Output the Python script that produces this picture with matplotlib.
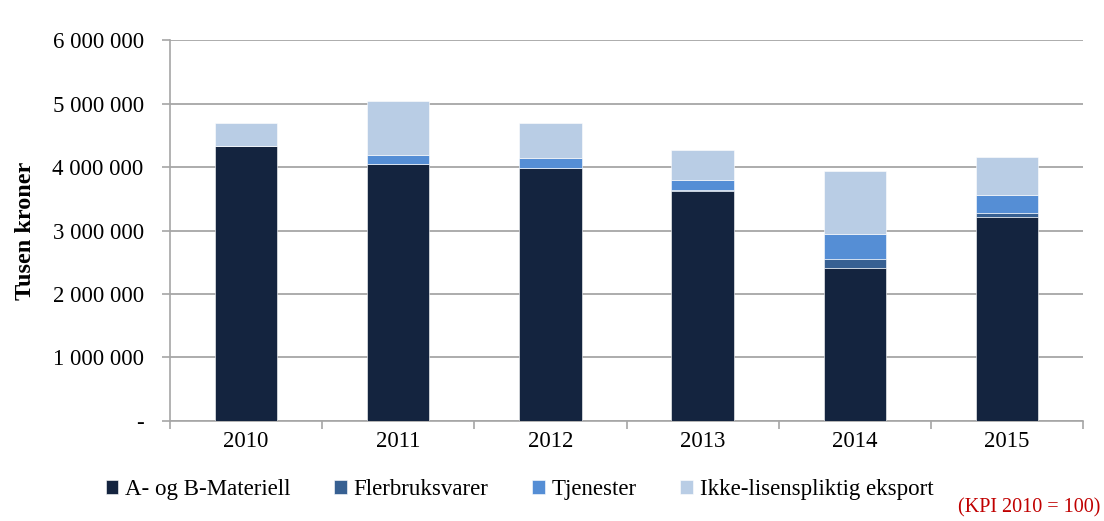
import numpy as np
import matplotlib.pyplot as plt
from matplotlib.ticker import FuncFormatter

years = ['2010', '2011', '2012', '2013', '2014', '2015']
materiell = [4335000, 4050000, 3980000, 3630000, 2410000, 3210000]
flerbruk = [0, 0, 10000, 10000, 140000, 60000]
tjenester = [0, 140000, 150000, 160000, 390000, 290000]
ikke_lisens = [365000, 850000, 550000, 470000, 1000000, 600000]

series = [
    ('A- og B-Materiell', materiell, '#14243f'),
    ('Flerbruksvarer', flerbruk, '#376092'),
    ('Tjenester', tjenester, '#558ed5'),
    ('Ikke-lisenspliktig eksport', ikke_lisens, '#b9cde5'),
]

plt.rcParams['font.family'] = ['Liberation Serif', 'DejaVu Serif']

fig = plt.figure(figsize=(11.04, 5.21), dpi=100)
ax = fig.add_axes([0.154, 0.192, 0.827, 0.731])

x = np.arange(len(years))
bottom = np.zeros(len(years))
handles = []
for name, vals, col in series:
    vals = np.array(vals, dtype=float)
    b = ax.bar(x, vals, width=0.41, bottom=bottom, color=col, edgecolor='white',
               linewidth=0.4, zorder=3, label=name)
    handles.append(b)
    bottom += vals

ax.set_ylim(0, 6000000)
ax.set_xlim(-0.5, len(years) - 0.5)
ax.set_yticks(np.arange(0, 6000001, 1000000))


def fmt(v, pos):
    if v == 0:
        return '-'
    return f'{int(v):,}'.replace(',', ' ')


ax.yaxis.set_major_formatter(FuncFormatter(fmt))
ax.yaxis.grid(True, color='#a6a6a6', linewidth=1.3, zorder=0)

ax.set_xticks(x)
ax.set_xticklabels(years)
ax.set_xticks(np.arange(-0.5, len(years), 1), minor=True)
ax.tick_params(axis='x', which='major', length=0, pad=7, labelsize=16.5)
ax.tick_params(axis='x', which='minor', length=6, color='#a6a6a6', width=1.2)
ax.tick_params(axis='y', length=6, color='#a6a6a6', width=1.2, pad=13, labelsize=16.5)

for s in ['top', 'right']:
    ax.spines[s].set_visible(False)
for s in ['left', 'bottom']:
    ax.spines[s].set_color('#a6a6a6')
    ax.spines[s].set_linewidth(1.2)

ax.set_ylabel('Tusen kroner', fontsize=17.5, fontweight='bold', labelpad=12)

fig.legend(handles=handles, loc='center left', bbox_to_anchor=(0.077, 0.06),
           ncol=4, frameon=False, fontsize=16.5, handlelength=0.55, handleheight=0.55,
           handletextpad=0.3, columnspacing=1.9)

fig.text(0.997, 0.025, '(KPI 2010 = 100)', color='#c00000', fontsize=14.5, ha='right', va='center')

fig.savefig('out.png', dpi=100)
